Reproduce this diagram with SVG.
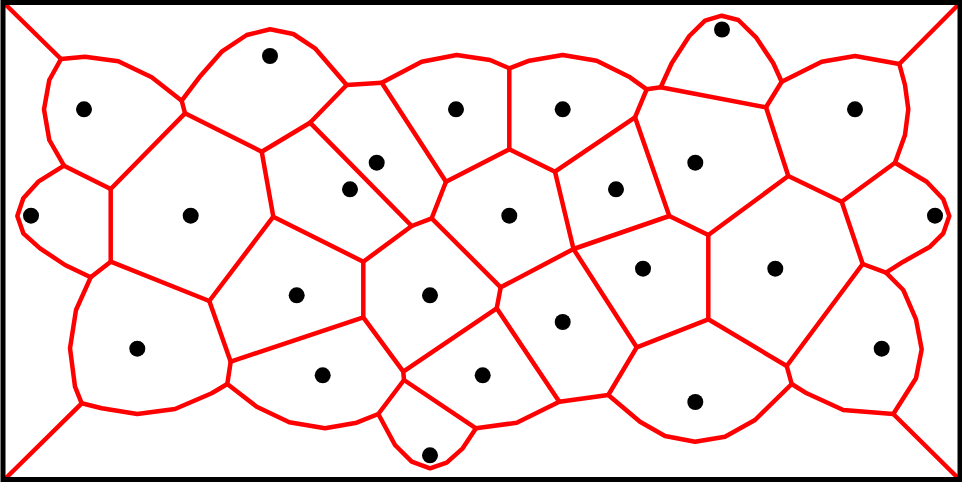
<svg xmlns="http://www.w3.org/2000/svg" width="962" height="482" viewBox="0 0 962 482">
<style>
.e{fill:none;stroke:#ff0000;stroke-width:4.5;stroke-linejoin:round;stroke-linecap:round}
.s{fill:#000}
</style>
<rect x="0" y="0" width="962" height="482" fill="#fff"/>
<g id="edges">
<polyline class="e" points="4,3 61,59"/>
<polyline class="e" points="61,59 85,56.7 118.3,61.3 151.7,77.3 181.7,100.7 185,113.3"/>
<polyline class="e" points="61,59 49.3,80 44,109.3 49.3,140 64,165.7 110.7,189 185,113.3 261.7,151.7 310,122.7 346.7,85"/>
<polyline class="e" points="181.7,100.7 199.3,77.3 221.7,51.7 246.7,35 270,29.3 293.3,34 315,48.3 346.7,85 381.7,82.7"/>
<polyline class="e" points="310,122.7 411.7,226 363.3,261.7 273.3,216.7 261.7,151.7"/>
<polyline class="e" points="273.3,216.7 209.3,301 110.7,261.7 110.7,189"/>
<polyline class="e" points="381.7,82.7 421.7,61.7 456.7,55 490,60 509.3,68.3 509.3,149.3 446,181.7 381.7,82.7"/>
<polyline class="e" points="446,181.7 431.7,218.3 411.7,226"/>
<polyline class="e" points="509.3,68.3 529.3,60.7 562.7,55 596.7,60.7 630,77.3 646.7,89.3 660.7,87.3"/>
<polyline class="e" points="646.7,89.3 635,117.3 555,171.7 509.3,149.3"/>
<polyline class="e" points="635,117.3 669.3,216 573.5,249 555,171.7"/>
<polyline class="e" points="660.7,87.3 671.7,63.3 689.3,36 705,20.7 721.7,15.7 738.3,20 756,37.3 773.3,63.3 781.7,81.7 766,107.3 660.7,87.3"/>
<polyline class="e" points="781.7,81.7 821.7,61.7 855,56 899.3,64 958,5"/>
<polyline class="e" points="899.3,64 905,85 908.3,109.3 905,135 895,162.7 841.7,201.7 788.3,176 766,107.3"/>
<polyline class="e" points="788.3,176 708.3,235 669.3,216"/>
<polyline class="e" points="895,162.7 926.7,181.7 943.3,199.3 949.3,216 943.3,233.3 930,246.7 903.3,261.7 886,272.7 862.7,264 841.7,201.7"/>
<polyline class="e" points="862.7,264 786.7,366 708.3,319.3 708.3,235"/>
<polyline class="e" points="786.7,366 791.7,384 806.7,393.3 843.3,410 893.3,414 958,478"/>
<polyline class="e" points="886,272.7 903.3,290 916,319.3 921.7,349.3 916,378.3 893.3,414"/>
<polyline class="e" points="791.7,384 755,420 725,436.7 695,441.7 665,436 640,421.7 608.3,395 636.7,347.3 708.3,319.3"/>
<polyline class="e" points="636.7,347.3 573.5,249 500.7,287.3 431.7,218.3"/>
<polyline class="e" points="608.3,395 559.3,401.7 496.7,308.3 500.7,287.3"/>
<polyline class="e" points="559.3,401.7 516.7,422.7 476,428.3 404,380 403.3,371.7 496.7,308.3"/>
<polyline class="e" points="363.3,261.7 363.3,317.3 403.3,371.7"/>
<polyline class="e" points="404,380 378.3,414 395,445 411.7,461.7 430,468.3 446.7,462.7 462.7,448.3 476,428.3"/>
<polyline class="e" points="363.3,317.3 230.7,361.7 209.3,301"/>
<polyline class="e" points="230.7,361.7 227.3,384 256.7,406.7 289.3,422.3 325,428.3 356.7,422.7 378.3,414"/>
<polyline class="e" points="64,165.7 38.3,181.7 23.3,198.3 17.3,216 23.3,233.3 40,248.3 65,265 90.7,277.3 110.7,261.7"/>
<polyline class="e" points="90.7,277.3 76,310 70,348.3 75,386.7 81.7,403.3 6,478"/>
<polyline class="e" points="81.7,403.3 101.7,408.3 137.3,414 175,409 211.7,393.3 227.3,384"/>
</g>
<rect x="3" y="2.5" width="957" height="477" fill="none" stroke="#000" stroke-width="5"/>
<g id="n1"><circle class="s" cx="84" cy="109.3" r="8"/></g>
<g id="n2"><circle class="s" cx="270" cy="56" r="8"/></g>
<g id="n3"><circle class="s" cx="31" cy="215.7" r="8"/></g>
<g id="n4"><circle class="s" cx="190.7" cy="215.7" r="8"/></g>
<g id="n5"><circle class="s" cx="376.7" cy="162.7" r="8"/></g>
<g id="n6"><circle class="s" cx="350" cy="189.3" r="8"/></g>
<g id="n7"><circle class="s" cx="456" cy="109.3" r="8"/></g>
<g id="n8"><circle class="s" cx="562.7" cy="109.3" r="8"/></g>
<g id="n9"><circle class="s" cx="722" cy="29.5" r="8"/></g>
<g id="n10"><circle class="s" cx="855" cy="109.3" r="8"/></g>
<g id="n11"><circle class="s" cx="695.3" cy="162.7" r="8"/></g>
<g id="n12"><circle class="s" cx="616" cy="189.3" r="8"/></g>
<g id="n13"><circle class="s" cx="509.3" cy="215.7" r="8"/></g>
<g id="n14"><circle class="s" cx="935" cy="215.7" r="8"/></g>
<g id="n15"><circle class="s" cx="296.7" cy="295.3" r="8"/></g>
<g id="n16"><circle class="s" cx="430" cy="295.3" r="8"/></g>
<g id="n17"><circle class="s" cx="643" cy="268.7" r="8"/></g>
<g id="n18"><circle class="s" cx="775.3" cy="268.7" r="8"/></g>
<g id="n19"><circle class="s" cx="137.3" cy="348.7" r="8"/></g>
<g id="n20"><circle class="s" cx="322.7" cy="375.3" r="8"/></g>
<g id="n21"><circle class="s" cx="482.7" cy="375.3" r="8"/></g>
<g id="n22"><circle class="s" cx="562.7" cy="322" r="8"/></g>
<g id="n23"><circle class="s" cx="881.7" cy="348.7" r="8"/></g>
<g id="n24"><circle class="s" cx="695.3" cy="402" r="8"/></g>
<g id="n25"><circle class="s" cx="430" cy="455.3" r="8"/></g>
</svg>
